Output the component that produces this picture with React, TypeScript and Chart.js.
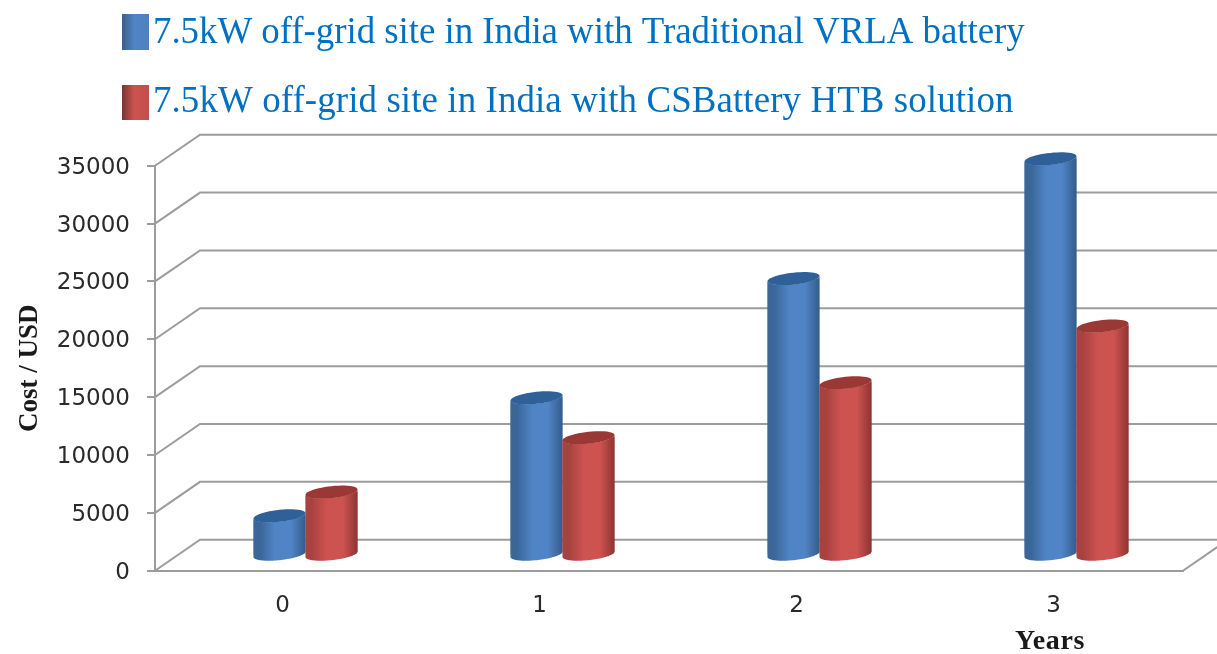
import React, { useEffect, useRef } from "react";
import { Chart, registerables } from "chart.js";

Chart.register(...registerables);

const categories = ["0", "1", "2", "3"];
const traditionalVRLA = [3400, 13600, 23900, 34250];
const csBatteryHTB = [5450, 10150, 14900, 19800];
const seriesLabels = [
  "7.5kW off-grid site in India with Traditional VRLA battery",
  "7.5kW off-grid site in India with CSBattery HTB solution",
];
const yTickStep = 5000;
const yMax = 35000;

const DEPTH_X = 45;
const DEPTH_Y = 31;
const BAR_SHIFT_X = 22;
const BAR_SHIFT_Y = 15.5;
const CAP_RY = 6;
const CAP_TILT = 2.7;
const GRID = "#9c9c9c";

const palettes = [
  { edgeL: "#3a6698", mid: "#4f84c6", edgeR: "#345c8c", cap: "#2f6098" },
  { edgeL: "#a8423f", mid: "#cd5350", edgeR: "#8e3431", cap: "#9a3836" },
];

function cylinderFill(c: any) {
  const chart = c.chart;
  const xScale = chart.scales.x;
  const p = palettes[c.datasetIndex];
  if (!xScale || c.dataIndex === undefined) return p.mid;
  const w = (xScale.width / categories.length) * 0.405 * 0.5;
  const center = xScale.getPixelForValue(c.dataIndex);
  const left = center + (c.datasetIndex - 1) * w;
  if (!Number.isFinite(left) || !Number.isFinite(w)) return p.mid;
  const g = chart.ctx.createLinearGradient(left, 0, left + w, 0);
  g.addColorStop(0, p.edgeL);
  g.addColorStop(0.12, p.edgeL);
  g.addColorStop(0.42, p.mid);
  g.addColorStop(0.72, p.mid);
  g.addColorStop(1, p.edgeR);
  return g;
}

// Sheared ellipse arc: vertical tangents stay on the bar's side edges.
function arc(ctx: any, cx: number, cy: number, rx: number, a0: number, a1: number) {
  const n = 48;
  for (let i = 0; i <= n; i++) {
    const a = a0 + ((a1 - a0) * i) / n;
    const dx = Math.cos(a);
    ctx.lineTo(cx + rx * dx, cy + CAP_RY * Math.sin(a) - CAP_TILT * dx);
  }
}

const scene = {
  id: "scene",
  beforeDatasetsDraw(chart: any) {
    const { ctx, chartArea: a, scales } = chart;
    ctx.save();
    ctx.strokeStyle = GRID;
    ctx.lineWidth = 2;
    scales.y.ticks.forEach((t: any) => {
      const y = scales.y.getPixelForValue(t.value);
      ctx.beginPath();
      ctx.moveTo(a.left, y);
      ctx.lineTo(a.left + DEPTH_X, y - DEPTH_Y);
      ctx.lineTo(a.right + DEPTH_X, y - DEPTH_Y);
      if (t.value === 0) {
        ctx.moveTo(a.right, y);
        ctx.lineTo(a.right + DEPTH_X, y - DEPTH_Y);
      }
      ctx.stroke();
    });
    ctx.translate(BAR_SHIFT_X, -BAR_SHIFT_Y);
    chart.data.datasets.forEach((_: any, i: number) => {
      const meta = chart.getDatasetMeta(i);
      meta.data.forEach((el: any) => {
        const rx = el.width / 2;
        // body: side walls plus the front half of the base ellipse
        ctx.fillStyle = el.options.backgroundColor;
        ctx.beginPath();
        arc(ctx, el.x, el.base, rx, Math.PI, 0);
        arc(ctx, el.x, el.y, rx, 0, Math.PI);
        ctx.closePath();
        ctx.fill();
        // the library's own bar, kept inside the cylinder outline
        ctx.save();
        ctx.clip();
        el.draw(ctx);
        ctx.restore();
        // top cap
        ctx.fillStyle = palettes[i].cap;
        ctx.beginPath();
        arc(ctx, el.x, el.y, rx, 0, Math.PI * 2);
        ctx.closePath();
        ctx.fill();
      });
    });
    ctx.restore();
    return false;
  },
  afterDraw(chart: any) {
    const { ctx } = chart;
    ctx.save();
    // legend
    const rows = [
      { top: 14, h: 36, base: 43, spacing: "-0.04px" },
      { top: 85, h: 35, base: 112, spacing: "0.1px" },
    ];
    chart.data.datasets.forEach((d: any, i: number) => {
      const r = rows[i];
      const g = ctx.createLinearGradient(122, 0, 149, 0);
      g.addColorStop(0, i === 0 ? "#3b5f8c" : "#7a3432");
      g.addColorStop(0.45, palettes[i].mid);
      g.addColorStop(1, i === 0 ? "#4f81bd" : "#c0504d");
      ctx.fillStyle = g;
      ctx.fillRect(122, r.top, 27, r.h);
      ctx.fillStyle = "#0070c0";
      ctx.font = '36.9px "Liberation Serif"';
      (ctx as any).letterSpacing = r.spacing;
      ctx.textAlign = "left";
      ctx.textBaseline = "alphabetic";
      ctx.fillText(d.label, 153, r.base);
    });
    // x axis title
    ctx.fillStyle = "#1a1a1a";
    ctx.font = 'bold 28px "Liberation Serif"';
    (ctx as any).letterSpacing = "0.6px";
    ctx.textAlign = "center";
    ctx.textBaseline = "middle";
    ctx.fillText("Years", 1050, 642);
    ctx.restore();
  },
};

export default function App() {
  const ref = useRef<HTMLCanvasElement>(null);
  useEffect(() => {
    document.body.style.margin = "0";
    const chart = new Chart(ref.current as HTMLCanvasElement, {
      type: "bar",
      data: {
        labels: categories,
        datasets: [
          { label: seriesLabels[0], data: traditionalVRLA, backgroundColor: cylinderFill, borderWidth: 0 },
          { label: seriesLabels[1], data: csBatteryHTB, backgroundColor: cylinderFill, borderWidth: 0 },
        ],
      },
      options: {
        responsive: false,
        animation: false,
        events: [],
        layout: { padding: { top: 165.7, right: 34, left: 0, bottom: 0 } },
        datasets: { bar: { barPercentage: 1, categoryPercentage: 0.405 } },
        plugins: { legend: { display: false }, tooltip: { enabled: false } },
        scales: {
          x: {
            grid: { display: false },
            border: { display: true, color: GRID, width: 2 },
            ticks: {
              font: { family: "DejaVu Sans", size: 23 },
              color: "#2a2a2a",
              padding: 14,
              labelOffset: -1,
              maxRotation: 0,
            },
            afterFit: (s: any) => { s.height = 83.3; },
          },
          y: {
            min: 0,
            max: yMax,
            grid: { drawOnChartArea: false, color: GRID, lineWidth: 2, tickLength: 8 },
            border: { display: true, color: GRID, width: 2 },
            ticks: {
              stepSize: yTickStep,
              font: { family: "DejaVu Sans", size: 23 },
              color: "#2a2a2a",
              padding: 17,
              labelOffset: 2,
              callback: (v: any) => String(v),
            },
            title: {
              display: true,
              text: "Cost / USD",
              font: { family: "Liberation Serif", size: 27, weight: "bold" },
              color: "#1a1a1a",
              padding: { top: 14, bottom: 0 },
            },
            afterFit: (s: any) => { s.width = 155; },
          },
        },
      },
      plugins: [scene],
    } as any);
    return () => chart.destroy();
  }, []);
  return (
    <div style={{ width: 1217, height: 654, overflow: "hidden" }}>
      <canvas ref={ref} width={1217} height={654} style={{ display: "block" }} />
    </div>
  );
}
